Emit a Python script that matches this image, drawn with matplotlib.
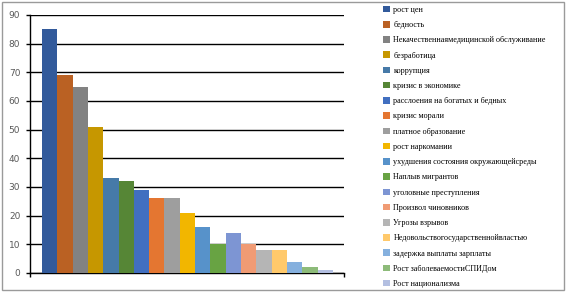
import matplotlib.pyplot as plt
from matplotlib.patches import Rectangle

labels = [
    "рост цен",
    "бедность",
    "Некачественнаямедицинской обслуживание",
    "безработица",
    "коррупция",
    "кризис в экономике",
    "расслоения на богатых и бедных",
    "кризис морали",
    "платное образование",
    "рост наркомании",
    "ухудшения состояния окружающейсреды",
    "Наплыв мигрантов",
    "уголовные преступления",
    "Произвол чиновников",
    "Угрозы взрывов",
    "Недовольствогосударственнойвластью",
    "задержка выплаты зарплаты",
    "Рост заболеваемостиСПИДом",
    "Рост национализма",
]
values = [85, 69, 65, 51, 33, 32, 29, 26, 26, 21, 16, 10, 14, 10, 8, 8, 4, 2, 1]
colors = [
    "#325A9B", "#BA6123", "#828282", "#C69700", "#467AA8", "#568636",
    "#416FC0", "#E47631", "#9E9E9E", "#F2B600", "#5792CA", "#68A343",
    "#7D95D3", "#F09B74", "#B5B5B5", "#FFC96B", "#85B0DE", "#8DBB79",
    "#B3BFE1",
]

fig = plt.figure(figsize=(5.66, 2.92), dpi=100)
fig.patches.append(Rectangle((0.004, 0.007), 0.992, 0.986, transform=fig.transFigure,
                             fill=False, edgecolor="#9a9a9a", linewidth=1.0))

ax = fig.add_axes([30 / 566, 1 - 273 / 292, 314 / 566, 258 / 292])
x = list(range(len(values)))
bars = ax.bar(x, values, width=1.0, color=colors, zorder=3)

ax.set_ylim(0, 90)
ax.set_xlim(-1.28, len(values) - 1 + 1.22)
ax.set_yticks(range(0, 91, 10))
ax.set_xticks([ax.get_xlim()[0], ax.get_xlim()[1]])
ax.set_xticklabels([])
ax.tick_params(axis="y", direction="out", length=3, width=1, colors="black",
               labelcolor="#595959", labelsize=6.5, pad=4)
ax.tick_params(axis="x", direction="out", length=3, width=1, colors="black")
ax.grid(axis="y", color="black", linewidth=1.0, zorder=0)
for s in ["top", "right"]:
    ax.spines[s].set_visible(False)
for s in ["left", "bottom"]:
    ax.spines[s].set_linewidth(1.0)
    ax.spines[s].set_color("black")

fig.legend(bars, labels, loc="upper left", bbox_to_anchor=(377 / 566, 1.0),
           frameon=False, prop={"family": "Liberation Serif", "size": 5.9},
           handlelength=0.85, handleheight=0.85, handletextpad=0.45,
           labelspacing=0.87, borderaxespad=0.3)

fig.savefig("out.png", dpi=100)
